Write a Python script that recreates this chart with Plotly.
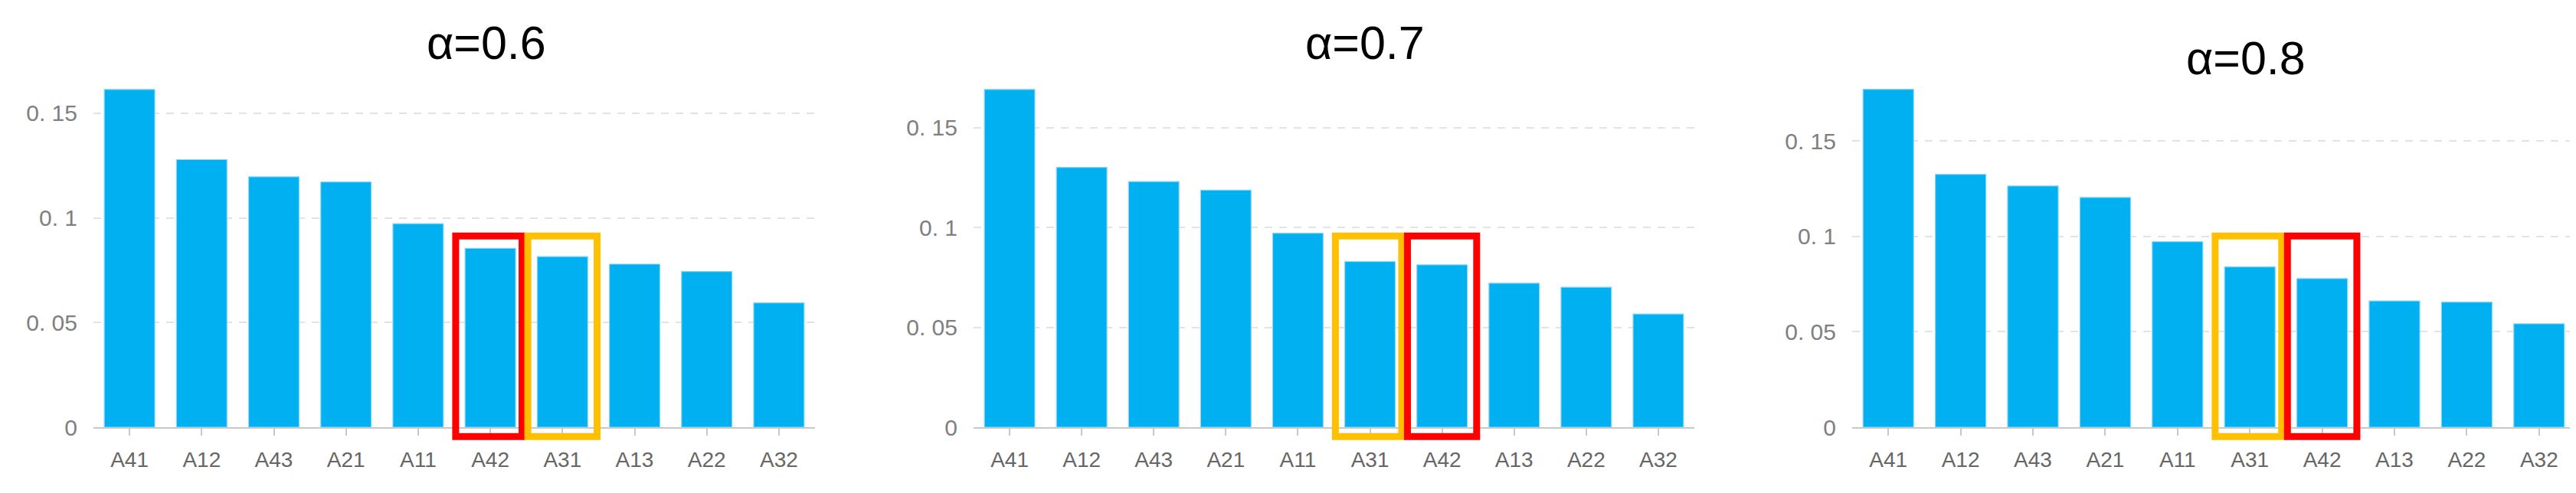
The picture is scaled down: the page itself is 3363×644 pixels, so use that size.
import plotly.graph_objects as go

# categories per panel (sorted by weight)
cats_06 = ["A41", "A12", "A43", "A21", "A11", "A42", "A31", "A13", "A22", "A32"]
cats_07 = ["A41", "A12", "A43", "A21", "A11", "A31", "A42", "A13", "A22", "A32"]
cats_08 = ["A41", "A12", "A43", "A21", "A11", "A31", "A42", "A13", "A22", "A32"]

vals_06 = [0.1613, 0.1278, 0.1196, 0.1171, 0.0972, 0.0854, 0.0815, 0.0779, 0.0744, 0.0594]
vals_07 = [0.1691, 0.1301, 0.1230, 0.1187, 0.0971, 0.0829, 0.0813, 0.0721, 0.0701, 0.0567]
vals_08 = [0.1771, 0.1325, 0.1264, 0.1204, 0.0972, 0.0840, 0.0779, 0.0662, 0.0656, 0.0542]

titles = ["α=0.6", "α=0.7", "α=0.8"]
y_tickvals = [0, 0.05, 0.1, 0.15]
y_ticktext = ["0", "0. 05", "0. 1", "0. 15"]

# highlighted categories: (category, colour)
marks_06 = [("A42", "#FF0000"), ("A31", "#FFC000")]
marks_07 = [("A31", "#FFC000"), ("A42", "#FF0000")]
marks_08 = [("A31", "#FFC000"), ("A42", "#FF0000")]

W, H = 3363, 644
BAR_COLOR = "#00B0F0"
GRID_COLOR = "#E3E3E3"
TICK_FONT = "Liberation Sans, Arial"

panels = [
    dict(cats=cats_06, vals=vals_06, marks=marks_06, x=(114, 1056), ymax=0.1655, title=(627, 49)),
    dict(cats=cats_07, vals=vals_07, marks=marks_07, x=(1263, 2204), ymax=0.1735, title=(1774, 49)),
    dict(cats=cats_08, vals=vals_08, marks=marks_08, x=(2410, 3354), ymax=0.1816, title=(2924, 70)),
]

y_dom = [79 / H, 544 / H]
box_top = 1 - 308.5 / H
box_bot = 1 - 577.5 / H

fig = go.Figure()
layout = {}

for k, p in enumerate(panels):
    n = "" if k == 0 else str(k + 1)
    fig.add_trace(go.Bar(
        x=p["cats"], y=p["vals"],
        xaxis="x" + n, yaxis="y" + n,
        width=0.7,
        marker=dict(color=BAR_COLOR, line=dict(color="#8AD6F8", width=1.2)),
        showlegend=False,
    ))
    layout["xaxis" + n] = dict(
        domain=[p["x"][0] / W, p["x"][1] / W],
        anchor="y" + n,
        type="category",
        range=[-0.5, 9.5],
        showline=True, linecolor="#C8C8C8", linewidth=2,
        ticks="outside", ticklen=9, tickwidth=1.5, tickcolor="#C8C8C8",
        showgrid=False,
        tickfont=dict(family=TICK_FONT, size=28, color="#666666"),
        ticklabelstandoff=7,
    )
    layout["yaxis" + n] = dict(
        domain=y_dom,
        anchor="x" + n,
        range=[0, p["ymax"]],
        tickvals=y_tickvals, ticktext=y_ticktext,
        showgrid=True, gridcolor=GRID_COLOR, gridwidth=2, griddash="10px,9px",
        zeroline=False, showline=False,
        tickfont=dict(family=TICK_FONT, size=30, color="#808080"),
        ticklabelstandoff=20,
    )
    fig.add_annotation(
        x=p["title"][0] / W, y=1 - p["title"][1] / H,
        xref="paper", yref="paper",
        text=titles[k], showarrow=False,
        xanchor="center", yanchor="middle",
        font=dict(family="Liberation Sans", size=61, color="#000000"),
    )
    for j, (cat, col) in enumerate(p["marks"]):
        i = p["cats"].index(cat)
        x0 = i - 0.48
        x1 = i + (0.44 if j == 0 else 0.48)
        fig.add_shape(
            type="rect", xref="x" + n, yref="paper",
            x0=x0, x1=x1, y0=box_bot, y1=box_top,
            line=dict(color=col, width=9),
            fillcolor="rgba(0,0,0,0)",
            layer="above",
        )

fig.update_layout(
    width=W, height=H,
    margin=dict(l=0, r=0, t=0, b=0),
    plot_bgcolor="white", paper_bgcolor="white",
    bargap=0.3,
    **layout,
)

fig.write_html("out.html")
